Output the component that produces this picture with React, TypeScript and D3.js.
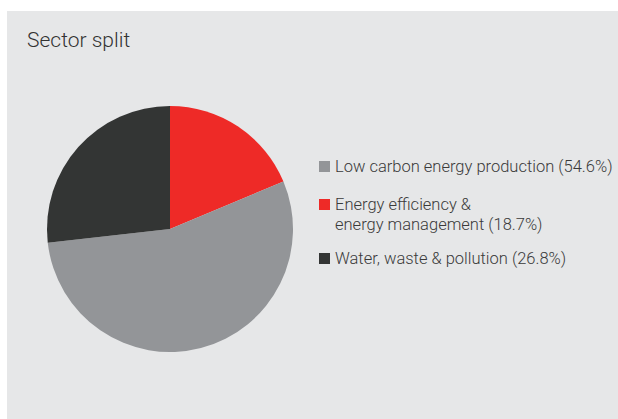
import React, { useEffect, useRef } from 'react';
import * as d3 from 'd3';

// legend order
const categories = ['Low carbon energy production', 'Energy efficiency &|energy management', 'Water, waste & pollution'];
const shares = [54.6, 18.7, 26.8];
const colors = ['#939598', '#ee2a27', '#333534'];
// order the slices go round the pie, clockwise from 12 o'clock
const pieOrder = [1, 0, 2];

const SectorSplit = () => {
  const svgRef = useRef(null);

  useEffect(() => {
    const width = 618;
    const height = 419;
    const cx = 170;
    const cy = 229;
    const radius = 123;

    d3.select(svgRef.current).selectAll('*').remove();

    const svg = d3.select(svgRef.current)
      .attr('width', width)
      .attr('height', height);

    // panel background
    svg.append('rect')
      .attr('x', 7)
      .attr('y', 11)
      .attr('width', width - 7)
      .attr('height', height - 11)
      .attr('fill', '#e6e7e8');

    svg.append('text')
      .attr('x', 27)
      .attr('y', 47)
      .attr('fill', '#333')
      .style('font-family', 'Roboto, sans-serif')
      .style('font-weight', 300)
      .style('font-size', '21px')
      .text('Sector split');

    const slices = pieOrder.map(i => ({ value: shares[i], color: colors[i] }));

    const pie = d3.pie<{ value: number; color: string }>()
      .sort(null)
      .value(d => d.value);

    const arc = d3.arc<d3.PieArcDatum<{ value: number; color: string }>>()
      .innerRadius(0)
      .outerRadius(radius);

    svg.append('g')
      .attr('transform', `translate(${cx},${cy})`)
      .selectAll('path')
      .data(pie(slices))
      .join('path')
      .attr('d', arc)
      .attr('fill', d => d.data.color);

    // legend
    const legendX = 319;
    const rowTops = [161, 199, 253];
    const legend = svg.append('g');

    categories.forEach((name, i) => {
      const row = legend.append('g')
        .attr('transform', `translate(${legendX}, ${rowTops[i]})`);

      row.append('rect')
        .attr('width', 11)
        .attr('height', 11)
        .attr('fill', colors[i]);

      const lines = name.split('|');
      const text = row.append('text')
        .attr('fill', '#3a3a3a')
        .style('font-family', 'Roboto, sans-serif')
        .style('font-weight', 300)
        .style('font-size', '16.5px');

      lines.forEach((line, j) => {
        const last = j === lines.length - 1;
        text.append('tspan')
          .attr('x', 16)
          .attr('y', 11 + j * 20)
          .text(last ? `${line} (${shares[i]}%)` : line);
      });
    });
  }, []);

  return (
    <svg ref={svgRef} style={{ position: 'absolute', left: 0, top: 0 }}></svg>
  );
};

export default SectorSplit;
